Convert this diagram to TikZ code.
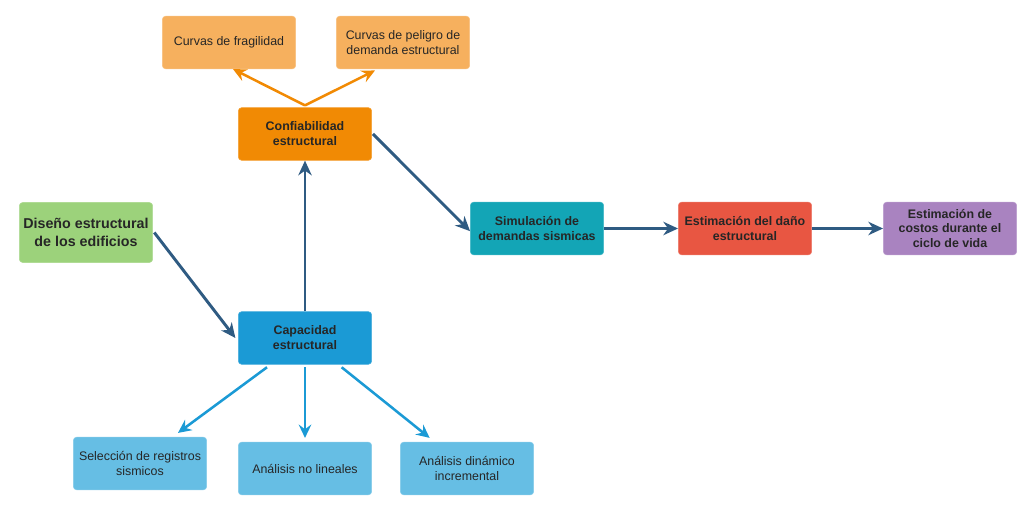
\documentclass[tikz,border=0pt]{standalone}
\usepackage{fontspec}
\setmainfont{Liberation Sans}
\usetikzlibrary{arrows.meta,positioning}
\definecolor{peach}{HTML}{F6B05E}
\definecolor{amber}{HTML}{F18A04}
\definecolor{leaf}{HTML}{9CD27B}
\definecolor{ocean}{HTML}{1B9AD5}
\definecolor{sky}{HTML}{66BEE4}
\definecolor{teal}{HTML}{13A5B6}
\definecolor{brick}{HTML}{E85642}
\definecolor{lilac}{HTML}{A983C0}
\definecolor{navy}{HTML}{2F5B82}
\begin{document}
\begin{tikzpicture}[x=0.75pt,y=-0.75pt,
  box/.style={rounded corners=2.5pt,minimum width=100pt,minimum height=39.5pt,
    align=center,inner sep=2pt,font=\fontsize{9.3}{11.2}\selectfont,text=black!85},
  bbox/.style={box,font=\fontsize{9.3}{11.2}\selectfont\bfseries},
  flow/.style={navy,line width=2.2pt,-{Stealth[length=11pt,width=10pt,inset=3.5pt]}},
  lflow/.style={ocean,line width=1.9pt,-{Stealth[length=10pt,width=9.5pt,inset=3.5pt]}},
  oflow/.style={amber,line width=1.9pt,-{Stealth[length=10pt,width=9.5pt,inset=3.5pt]}}]
  \useasboundingbox (0,0) rectangle (1026,514);

  % upper branch
  \node[box,fill=peach,draw=peach!80!white] (fragil) at (229,42.5) {Curvas de fragilidad};
  \node[box,fill=peach,draw=peach!80!white] (peligro) at (403,42.5) {Curvas de peligro de\\demanda estructural};
  \node[bbox,fill=amber,draw=amber!80!white] (confia) at (305,134) {Confiabilidad\\estructural};

  % design and capacity
  \node[box,font=\fontsize{10.7}{13}\selectfont\bfseries,minimum height=45pt,fill=leaf,draw=leaf!80!white] (diseno) at (86,232.5) {Dise\~no estructural\\de los edificios};
  \node[bbox,fill=ocean,draw=ocean!80!white] (capac) at (305,338) {Capacidad\\estructural};

  % main chain
  \node[bbox,fill=teal,draw=teal!80!white] (simul) at (537,228.5) {Simulaci\'on de\\demandas sismicas};
  \node[bbox,fill=brick,draw=brick!80!white] (dano) at (745,228.5) {Estimaci\'on del da\~no\\estructural};
  \node[bbox,fill=lilac,draw=lilac!80!white] (costos) at (950,228.5) {Estimaci\'on de\\costos durante el\\ciclo de vida};

  % lower branch
  \node[box,fill=sky,draw=sky!80!white] (selec) at (140,463.5) {Selecci\'on de registros\\sismicos};
  \node[box,fill=sky,draw=sky!80!white] (nolin) at (305,468.5) {An\'alisis no lineales};
  \node[box,fill=sky,draw=sky!80!white] (dinam) at (467,468.5) {An\'alisis din\'amico\\incremental};

  % connectors
  \coordinate (ctop) at ([yshift=1.5pt]confia.north);
  \draw[oflow] (ctop) -- ([xshift=3pt,yshift=0pt]fragil.south);
  \draw[oflow] (ctop) -- ([xshift=-21pt,yshift=-1pt]peligro.south);
  \draw[flow] (confia.east) ++(1,0) -- ([yshift=-2pt]simul.west);
  \draw[flow] ([xshift=1pt]diseno.east) -- ([xshift=-2pt]capac.west);
  \draw[flow] (capac.north) -- (confia.south);
  \draw[flow] (simul) -- (dano);
  \draw[flow] (dano) -- (costos);
  \draw[lflow] ([xshift=-28.5pt,yshift=-2pt]capac.south) -- ([xshift=28.5pt,yshift=3pt]selec.north);
  \draw[lflow] ([yshift=-2pt]capac.south) -- ([yshift=3pt]nolin.north);
  \draw[lflow] ([xshift=27.5pt,yshift=-2pt]capac.south) -- ([xshift=-28pt,yshift=3pt]dinam.north);
\end{tikzpicture}
\end{document}
